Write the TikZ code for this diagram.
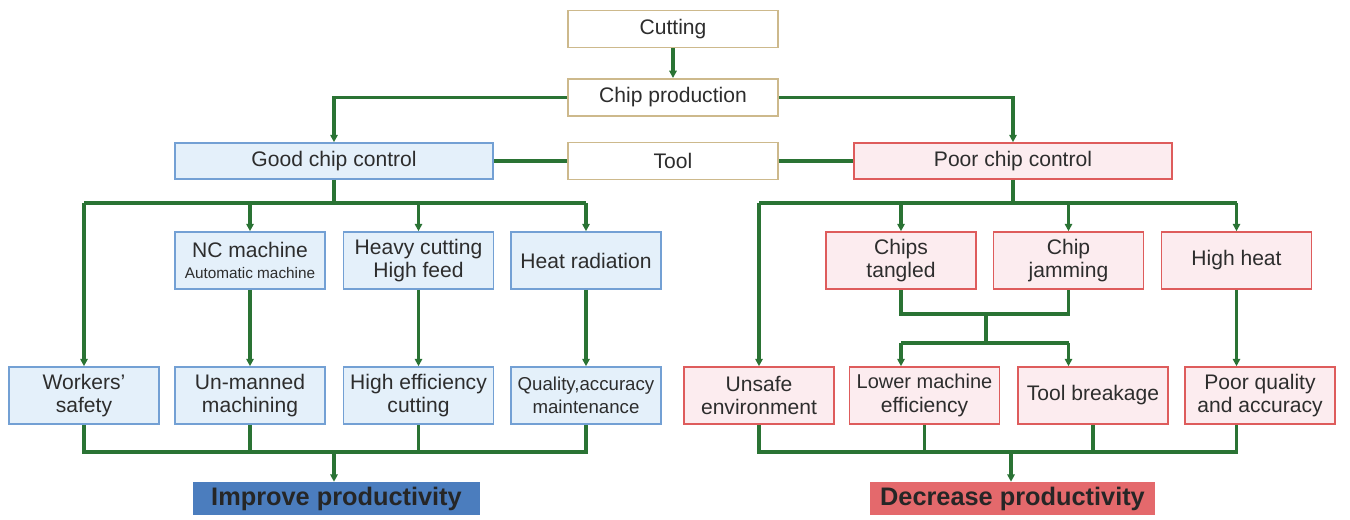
\documentclass[tikz,border=0pt]{standalone}
\usepackage{fontspec}
\setmainfont{Liberation Sans}
\usetikzlibrary{arrows.meta}
\definecolor{gline}{RGB}{42,115,52}
\definecolor{bdraw}{RGB}{115,160,212}
\definecolor{bfill}{RGB}{228,240,250}
\definecolor{pdraw}{RGB}{222,92,92}
\definecolor{pfill}{RGB}{252,236,239}
\definecolor{tdraw}{RGB}{205,185,140}
\definecolor{txt}{RGB}{45,45,45}
\definecolor{impfill}{RGB}{75,125,190}
\definecolor{decfill}{RGB}{228,105,108}
\begin{document}
\begin{tikzpicture}[x=0.75pt,y=-0.75pt,
  box/.style={draw, line width=1.2pt, align=center, inner sep=1pt, text=txt,
     font=\fontsize{15.8}{17.5}\selectfont},
  topbox/.style={box, draw=tdraw, fill=white, minimum width=157.5pt, minimum height=28pt},
  gbox/.style={box, draw=bdraw, fill=bfill, minimum width=112.5pt, minimum height=42.75pt},
  pbox/.style={box, draw=pdraw, fill=pfill, minimum width=112.5pt, minimum height=42.75pt},
  resbox/.style={draw=none, text=black!85, minimum height=24.75pt, font=\fontsize{19}{21}\selectfont\bfseries},
  ln/.style={draw=gline, line width=2.5pt},
  arr/.style={ln, -{Triangle[length=5.5pt,width=5.5pt]}}]
\useasboundingbox (0,0) rectangle (1350,519);
% top boxes
\node[topbox] (cut) at (673,29) {Cutting};
\node[topbox] (chip) at (673,97.5) {Chip production};
\node[topbox] (tool) at (673,161) {Tool};
\node[box, draw=bdraw, fill=bfill, minimum width=238.5pt, minimum height=27pt] (good) at (334,161) {Good chip control};
\node[box, draw=pdraw, fill=pfill, minimum width=238.5pt, minimum height=27pt] (poor) at (1013,161) {Poor chip control};
% left second row
\node[gbox] (nc) at (250,260.5) {NC machine\\[-2pt]{\fontsize{11.5}{13}\selectfont Automatic machine}};
\node[gbox] (hv) at (418.5,260.5) {Heavy cutting\\High feed};
\node[gbox] (hr) at (586,260.5) {Heat radiation};
% left third row
\node[gbox] (ws) at (84,395.5) {Workers'\\safety};
\node[gbox] (um) at (250,395.5) {Un-manned\\machining};
\node[gbox] (he) at (418.5,395.5) {High efficiency\\cutting};
\node[gbox] (qa) at (586,395.5) {{\fontsize{14}{17.5}\selectfont Quality,accuracy}\\{\fontsize{14}{17.5}\selectfont maintenance}};
% right second row
\node[pbox] (ct) at (901,260.5) {Chips\\tangled};
\node[pbox] (cj) at (1068.5,260.5) {Chip\\jamming};
\node[pbox] (hh) at (1236.5,260.5) {High heat};
% right third row
\node[pbox] (us) at (759,395.5) {Unsafe\\environment};
\node[pbox] (lm) at (924.5,395.5) {{\fontsize{15}{17.5}\selectfont Lower machine}\\efficiency};
\node[pbox] (tb) at (1093,395.5) {Tool breakage};
\node[pbox] (pq) at (1260,395.5) {Poor quality\\and accuracy};
% results
\node[resbox, fill=impfill, minimum width=215pt] (imp) at (336.5,498.5) {Improve productivity};
\node[resbox, fill=decfill, minimum width=214pt] (dec) at (1012.5,498.5) {Decrease productivity};
% coordinates
\coordinate (gb) at (334,203);
\coordinate (pb) at (1013,203);
\coordinate (gb2) at (334,452);
\coordinate (pb2) at (1011,452);
\coordinate (m1) at (986,314);
\coordinate (m2) at (986,343);
% top connectors
\draw[arr] (cut) -- (chip);
\draw[arr] (chip.west) -| (good.north);
\draw[arr] (chip.east) -| (poor.north);
\draw[ln] (tool.west) -- (good.east);
\draw[ln] (tool.east) -- (poor.west);
% left tree
\draw[ln] (good.south) -- (gb);
\draw[ln] (ws.north |- gb) -- (hr.north |- gb);
\draw[arr] (ws.north |- gb) -- (ws.north);
\draw[arr] (nc.north |- gb) -- (nc.north);
\draw[arr] (hv.north |- gb) -- (hv.north);
\draw[arr] (hr.north |- gb) -- (hr.north);
\draw[arr] (nc.south) -- (um.north);
\draw[arr] (hv.south) -- (he.north);
\draw[arr] (hr.south) -- (qa.north);
\draw[ln] (ws.south) -- (ws.south |- gb2) -- (qa.south |- gb2) -- (qa.south);
\draw[ln] (um.south) -- (um.south |- gb2);
\draw[ln] (he.south) -- (he.south |- gb2);
\draw[arr] (gb2) -- (gb2 |- imp.north);
% right tree
\draw[ln] (poor.south) -- (pb);
\draw[ln] (us.north |- pb) -- (hh.north |- pb);
\draw[arr] (us.north |- pb) -- (us.north);
\draw[arr] (ct.north |- pb) -- (ct.north);
\draw[arr] (cj.north |- pb) -- (cj.north);
\draw[arr] (hh.north |- pb) -- (hh.north);
\draw[ln] (ct.south) -- (ct.south |- m1) -- (cj.south |- m1) -- (cj.south);
\draw[ln] (m1) -- (m2);
\draw[ln] (ct.south |- m2) -- (cj.south |- m2);
\draw[arr] (ct.south |- m2) -- (ct.south |- lm.north);
\draw[arr] (cj.south |- m2) -- (cj.south |- tb.north);
\draw[arr] (hh.south) -- (hh.south |- pq.north);
\draw[ln] (us.south) -- (us.south |- pb2) -- (hh.south |- pb2) -- (hh.south |- pq.south);
\draw[ln] (lm.south) -- (lm.south |- pb2);
\draw[ln] (tb.south) -- (tb.south |- pb2);
\draw[arr] (pb2) -- (pb2 |- dec.north);
\end{tikzpicture}
\end{document}
